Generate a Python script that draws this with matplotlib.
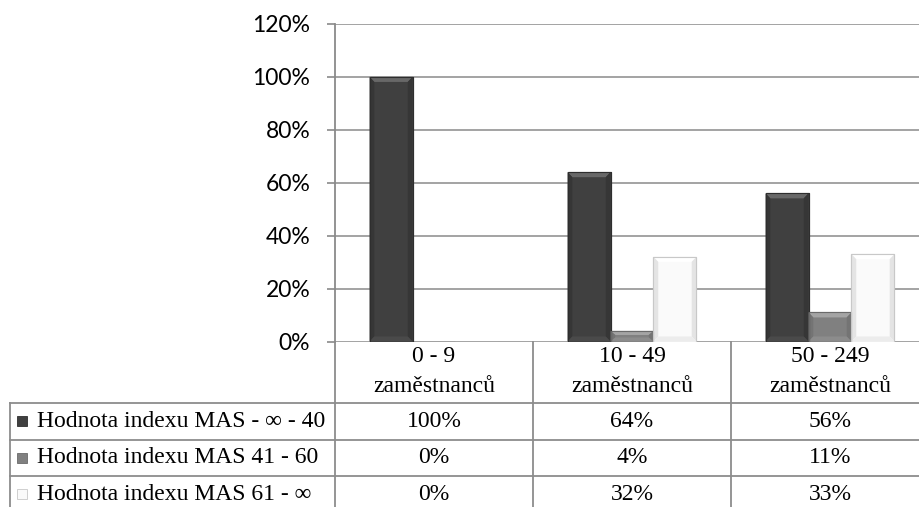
import matplotlib
matplotlib.use("Agg")
import matplotlib.pyplot as plt
from matplotlib.patches import Rectangle, Polygon
from matplotlib.lines import Line2D

categories = ["0 - 9\nzaměstnanců", "10 - 49\nzaměstnanců", "50 - 249\nzaměstnanců"]
series_names = ["Hodnota indexu MAS - ∞ - 40", "Hodnota indexu MAS 41 - 60", "Hodnota indexu MAS 61 - ∞"]
series_values = [
    [1.00, 0.64, 0.56],
    [0.00, 0.04, 0.11],
    [0.00, 0.32, 0.33],
]
y_ticks = [0, 0.2, 0.4, 0.6, 0.8, 1.0, 1.2]

face = ["#404040", "#808080", "#fafafa"]
top_c = ["#686868", "#a4a4a4", "#ffffff"]
side_c = ["#363636", "#747474", "#e4e4e4"]
bot_c = ["#4a4a4a", "#8c8c8c", "#ececec"]
edge_c = ["#2e2e2e", "#6a6a6a", "#c8c8c8"]

W, H = 919, 507
fig = plt.figure(figsize=(W / 100, H / 100), dpi=100)

def fx(px):
    return px / W

def fy(py):
    return 1 - py / H

ax_left, ax_right, ax_top, ax_bot = 335, 929, 24, 341.5
ax = fig.add_axes([fx(ax_left), fy(ax_bot), (ax_right - ax_left) / W, (ax_bot - ax_top) / H])
ax.set_xlim(-0.5, 2.5)
ax.set_ylim(0, 1.2)

bw = 0.217
for i, vals in enumerate(series_values):
    xs = [c + (i - 1) * bw for c in range(len(categories))]
    bars = ax.bar(xs, vals, width=bw, color=face[i], edgecolor=edge_c[i], linewidth=0.8, zorder=3)
    for r in bars:
        h = r.get_height()
        if h <= 0:
            continue
        x0, w = r.get_x(), r.get_width()
        bx = 0.024
        by = min(0.019, h / 2.6)
        x1 = x0 + w
        ax.add_patch(Polygon([(x0, h), (x1, h), (x1 - bx, h - by), (x0 + bx, h - by)],
                             closed=True, facecolor=top_c[i], edgecolor="none", zorder=4))
        ax.add_patch(Polygon([(x0, 0), (x0, h), (x0 + bx, h - by), (x0 + bx, by)],
                             closed=True, facecolor=side_c[i], edgecolor="none", zorder=4))
        ax.add_patch(Polygon([(x1, 0), (x1, h), (x1 - bx, h - by), (x1 - bx, by)],
                             closed=True, facecolor=side_c[i], edgecolor="none", zorder=4))
        ax.add_patch(Polygon([(x0, 0), (x1, 0), (x1 - bx, by), (x0 + bx, by)],
                             closed=True, facecolor=bot_c[i], edgecolor="none", zorder=4))
        ax.add_patch(Rectangle((x0, 0), w, h, facecolor="none", edgecolor=edge_c[i], linewidth=0.8, zorder=5))

ax.set_yticks(y_ticks)
ax.set_yticklabels([f"{int(round(t * 100))}%" for t in y_ticks], fontfamily="Lato", fontsize=16.5)
ax.yaxis.grid(True, color="#9c9c9c", linewidth=1.3, zorder=0)
ax.set_axisbelow(True)
ax.tick_params(axis="y", length=5.8, width=1.2, color="#8a8a8a", pad=12)
ax.set_xticks([])
for s in ["top", "right", "bottom"]:
    ax.spines[s].set_visible(False)
ax.spines["left"].set_color("#8a8a8a")
ax.spines["left"].set_linewidth(1.3)

# ---------- data table ----------
lc = "#8c8c8c"
lw = 1.3
serif = ["Liberation Serif", "DejaVu Serif"]
fs = 17

def hline(y, x0, x1):
    fig.add_artist(Line2D([fx(x0), fx(x1)], [fy(y), fy(y)], color=lc, lw=lw))

def vline(x, y0, y1):
    fig.add_artist(Line2D([fx(x), fx(x)], [fy(y0), fy(y1)], color=lc, lw=lw))

col_edges = [335, 533, 731, 929]
row_edges = [403, 439.5, 476, 512.5]
for x in col_edges[:-1]:
    vline(x, ax_bot, H + 5)
vline(10, row_edges[0], H + 5)
for y in row_edges:
    hline(y, 10, W + 10)

for j, cat in enumerate(categories):
    cx = (col_edges[j] + col_edges[j + 1]) / 2
    l1, l2 = cat.split("\n")
    fig.text(fx(cx), fy(356), l1, ha="center", va="center", fontfamily=serif, fontsize=fs)
    fig.text(fx(cx), fy(386), l2, ha="center", va="center", fontfamily=serif, fontsize=fs)

for i, name in enumerate(series_names):
    yc = (row_edges[i] + row_edges[i + 1]) / 2
    fig.add_artist(Rectangle((fx(17), fy(yc + 5)), 10 / W, 10 / H, facecolor=face[i],
                             edgecolor=edge_c[i], linewidth=0.6, transform=fig.transFigure))
    fig.text(fx(37), fy(yc), name, ha="left", va="center", fontfamily=serif, fontsize=fs)
    for j, v in enumerate(series_values[i]):
        cx = (col_edges[j] + col_edges[j + 1]) / 2
        fig.text(fx(cx), fy(yc), f"{int(round(v * 100))}%", ha="center", va="center",
                 fontfamily=serif, fontsize=fs)

fig.savefig("out.png", dpi=100)
